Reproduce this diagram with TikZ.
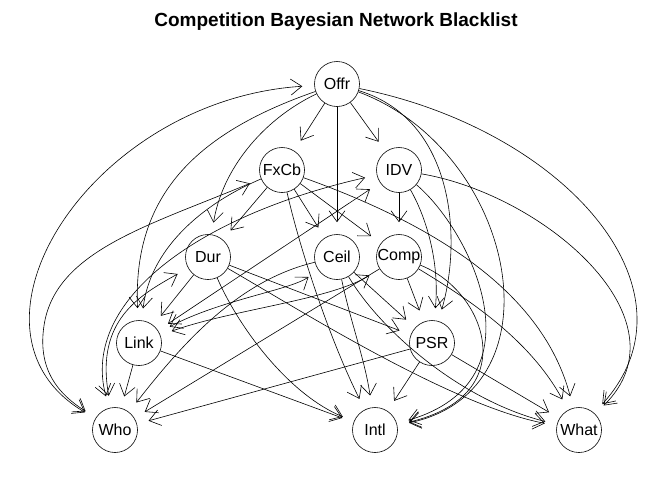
\documentclass[tikz,border=0pt]{standalone}
\usepackage{fontspec}
\setmainfont{Liberation Sans}
\usetikzlibrary{arrows.meta}

\begin{document}
\begin{tikzpicture}[
    x=1pt, y=-1pt,
    line width=0.6pt,
    every node/.style={font=\fontsize{16}{16}\selectfont},
    var/.style={circle, draw, minimum size=45pt, inner sep=0pt},
    >={Straight Barb[length=11pt, width=16pt]},
    dep/.style={->, shorten >=12pt},
    pair/.style={<->, shorten >=12pt, shorten <=12pt},
]
\useasboundingbox (0,0) rectangle (672,480);
\node[font=\bfseries\fontsize{19}{19}\selectfont] (title) at (336,22) {Competition Bayesian Network Blacklist};

% Nodes (dot layout, one rank per row)
\node[var] (offr) at (337,84) {Offr};
\node[var] (fxcb) at (282,170) {FxCb};
\node[var] (idv) at (399,170) {IDV};
\node[var] (dur) at (208,257) {Dur};
\node[var] (ceil) at (337,257) {Ceil};
\node[var] (comp) at (399,257) {Comp};
\node[var] (link) at (139,343) {Link};
\node[var] (psr) at (432,343) {PSR};
\node[var] (who) at (115,430) {Who};
\node[var] (intl) at (375,430) {Intl};
\node[var] (what) at (579,430) {What};

% Straight arcs
\draw[dep] (offr) -- (fxcb);
\draw[dep] (offr) -- (idv);
\draw[dep] (offr) -- (ceil);
\draw[dep] (fxcb) -- (dur);
\draw[dep] (fxcb) -- (ceil);
\draw[dep] (fxcb) -- (comp);
\draw[dep] (idv) -- (comp);
\draw[dep] (dur) -- (link);
\draw[dep] (dur) -- (psr);
\draw[dep] (ceil) -- (psr);
\draw[dep] (comp) -- (psr);
\draw[dep] (comp) -- (who);
\draw[dep] (link) -- (who);
\draw[dep] (link) -- (intl);
\draw[dep] (psr) -- (who);
\draw[dep] (psr) -- (intl);
\draw[dep] (psr) -- (what);
\draw[pair] (link) -- (idv);

% Curved arcs from the top ranks
\draw[dep] (offr) .. controls (262,120) and (222,170) .. (dur);
\draw[dep] (offr) .. controls (190,135) and (133,200) .. (link);
\draw[pair] (offr) .. controls (90,100) and (-55,330) .. (who);
\draw[dep] (offr) .. controls (455,120) and (462,240) .. (psr);
\draw[dep] (offr) .. controls (515,150) and (565,390) .. (intl);
\draw[dep] (offr) .. controls (565,130) and (705,290) .. (what);
\draw[pair] (fxcb) .. controls (150,225) and (60,250) .. (45,320) .. controls (35,370) and (60,395) .. (who);
\draw[dep] (fxcb) .. controls (200,205) and (150,250) .. (link);
\draw[dep] (fxcb) .. controls (300,250) and (330,340) .. (intl);
\draw[dep] (fxcb) .. controls (450,230) and (545,300) .. (what);
\draw[dep] (idv) .. controls (425,215) and (440,260) .. (psr);
\draw[dep] (idv) .. controls (470,230) and (545,380) .. (intl);
\draw[dep] (idv) .. controls (545,195) and (690,320) .. (what);

% Curved arcs from the middle ranks
\draw[pair] (who) .. controls (80,300) and (200,215) .. (idv);
\draw[pair] (who) .. controls (95,320) and (140,295) .. (dur);
\draw[dep] (dur) .. controls (240,330) and (290,395) .. (intl);
\draw[dep] (dur) .. controls (300,310) and (450,405) .. (what);
\draw[dep] (ceil) .. controls (240,280) and (185,340) .. (who);
\draw[pair] (link) .. controls (220,300) and (290,290) .. (ceil);
\draw[pair] (link) .. controls (230,310) and (330,300) .. (comp);
\draw[dep] (ceil) .. controls (350,320) and (365,360) .. (intl);
\draw[dep] (ceil) .. controls (380,330) and (460,400) .. (what);
\draw[dep] (comp) .. controls (485,290) and (525,395) .. (intl);
\draw[dep] (comp) .. controls (470,300) and (530,340) .. (what);

\end{tikzpicture}
\end{document}
